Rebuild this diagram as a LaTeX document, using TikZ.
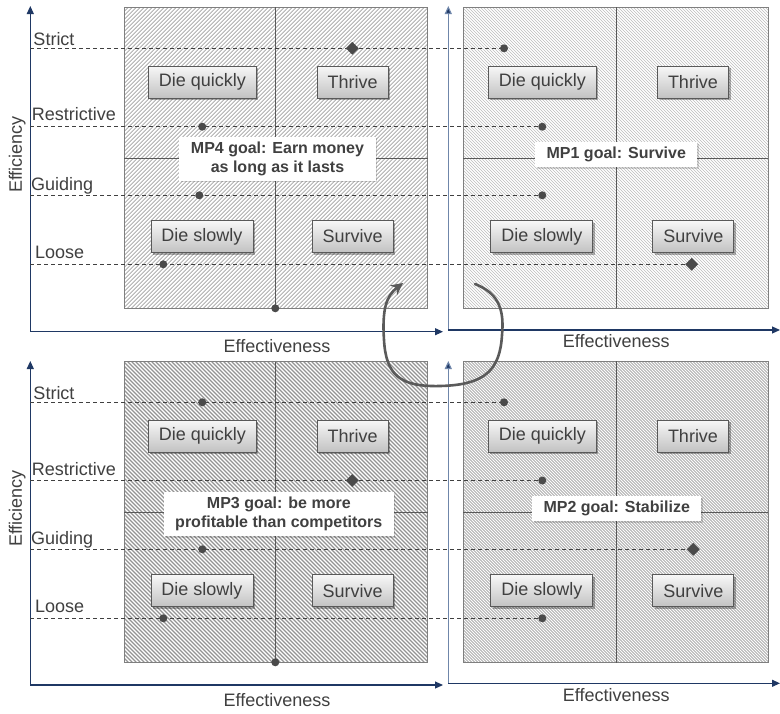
\documentclass[tikz,border=0pt]{standalone}
\usepackage{fontspec}
\setmainfont{Liberation Sans}
\usetikzlibrary{arrows.meta,shapes.geometric,shadows}

\definecolor{txt}{HTML}{404040}
\definecolor{navy}{HTML}{1F3864}
\definecolor{steel}{HTML}{6F86AA}
\definecolor{frameg}{HTML}{7F7F7F}
\definecolor{midg}{HTML}{595959}
\definecolor{markg}{HTML}{4A4A4A}
\definecolor{loopg}{HTML}{5A5A5A}

% diagonal hatching of a rectangle: x1, y1, x2, y2, gap, direction (1 rising, -1 falling), line style
\newcommand{\panelhatch}[7]{%
  \begin{scope}
    \clip (#1,#2) rectangle (#3,#4);
    \fill[white] (#1,#2) rectangle (#3,#4);
    \pgfmathsetmacro{\phgt}{#4-#2}
    \pgfmathsetmacro{\pustart}{#1-\phgt}
    \pgfmathsetmacro{\punext}{#1-\phgt+#5}
    \foreach \u in {\pustart,\punext,...,#3}{
      \ifnum#6>0
        \draw[#7] (\u,#4) -- ++(\phgt,-\phgt);
      \else
        \draw[#7] (\u,#2) -- ++(\phgt,\phgt);
      \fi
    }
  \end{scope}}

\tikzset{
  frameline/.style={draw=frameg, line width=0.9pt},
  midline/.style={draw=midg, line width=0.8pt},
  outcome/.style={draw=midg, line width=0.9pt, top color=black!3, bottom color=black!24,
    text=txt, font=\fontsize{18}{20}\selectfont, inner xsep=10.5pt, inner ysep=4pt,
    minimum height=32pt,
    drop shadow={shadow xshift=2pt, shadow yshift=-2pt, opacity=0.3, fill=black}},
  goal/.style={fill=white, text=txt, font=\fontsize{16}{19}\selectfont\bfseries,
    align=center, inner xsep=11.5pt, inner ysep=5pt,
    drop shadow={shadow xshift=1.5pt, shadow yshift=-1.5pt, opacity=0.15, fill=black}},
  level/.style={text=txt, font=\fontsize{18}{20}\selectfont, anchor=base west, inner sep=0pt},
  axislabel/.style={text=txt, font=\fontsize{18}{20}\selectfont, anchor=base, inner sep=0pt},
  axis/.style={draw=navy, line width=1.1pt, -{Triangle[length=8pt,width=7pt]}},
  axisl/.style={draw=steel, line width=1.1pt, -{Triangle[length=8pt,width=7pt,fill=navy]}},
  guide/.style={draw=txt, line width=0.7pt, dash pattern=on 4pt off 3pt},
  dotm/.style={circle, fill=markg, inner sep=0pt, minimum size=8pt},
  gem/.style={diamond, fill=markg, inner sep=0pt, minimum width=13pt, minimum height=13pt},
  loopline/.style={draw=loopg, line width=2.6pt, line cap=round,
    -{Stealth[length=12pt,width=12pt,inset=4pt]}},
}

\begin{document}
\begin{tikzpicture}[x=1pt,y=-1pt]
\useasboundingbox (0,0) rectangle (780,713);
\fill[white] (0,0) rectangle (780,713);

% ---------- hatched quadrant fields ----------
\panelhatch{124.3}{7.3}{427.7}{308.3}{4}{1}{draw=black!36, line width=0.75pt}
\panelhatch{463.3}{7.3}{768.3}{308.3}{3}{-1}{draw=black!26, line width=0.7pt}
\panelhatch{124.3}{361.7}{427.7}{662.3}{4}{-1}{draw=black!42, line width=1.2pt}
\panelhatch{463.3}{361.3}{768.3}{662.7}{3}{-1}{draw=black!32, line width=0.85pt}

% frames and quadrant dividers
\draw[frameline] (124.3,7.3) rectangle (427.7,308.3);
\draw[midline] (275.3,7.3) -- (275.3,308.3);
\draw[midline] (124.3,158.3) -- (427.7,158.3);

\draw[frameline] (463.3,7.3) rectangle (768.3,308.3);
\draw[midline] (616,7.3) -- (616,308.3);
\draw[midline] (463.3,158.3) -- (768.3,158.3);

\draw[frameline] (124.3,361.7) rectangle (427.7,662.3);
\draw[midline] (275.3,361.7) -- (275.3,662.3);
\draw[midline] (124.3,512.3) -- (427.7,512.3);

\draw[frameline] (463.3,361.3) rectangle (768.3,662.7);
\draw[midline] (616,361.3) -- (616,662.7);
\draw[midline] (463.3,512.3) -- (768.3,512.3);

% ---------- axes ----------
\coordinate (tl-o) at (30.3,331.7);
\coordinate (tl-y) at (30.3,6);
\coordinate (tl-x) at (443,331.7);
\coordinate (tr-o) at (448.3,330);
\coordinate (tr-y) at (448.3,6);
\coordinate (tr-x) at (780,330);
\coordinate (bl-o) at (30.3,685);
\coordinate (bl-y) at (30.3,361);
\coordinate (bl-x) at (443,685);
\coordinate (br-o) at (448.3,683.3);
\coordinate (br-y) at (448.3,361);
\coordinate (br-x) at (780,683.3);

\draw[axis] (tl-o) -- (tl-y);
\draw[axis] (tl-o) -- (tl-x);
\draw[axisl] (tr-o) -- (tr-y);
\draw[axis] (tr-o) -- (tr-x);
\draw[axis] (bl-o) -- (bl-y);
\draw[axis] (bl-o) -- (bl-x);
\draw[axisl] (br-o) -- (br-y);
\draw[axis] (br-o) -- (br-x);

% axis titles
\node[axislabel] (tl-eff) at (277,352.3) {Effectiveness};
\node[axislabel] (tr-eff) at (616.3,347.7) {Effectiveness};
\node[axislabel] (bl-eff) at (277,706.5) {Effectiveness};
\node[axislabel] (br-eff) at (616.3,701.7) {Effectiveness};
\node[axislabel, rotate=90] (tl-effi) at (21.8,154.5) {Efficiency};
\node[axislabel, rotate=90] (bl-effi) at (21.8,508.5) {Efficiency};

% level titles
\node[level] (t-strict) at (33.3,45) {Strict};
\node[level] (t-restr) at (31.7,120.7) {Restrictive};
\node[level] (t-guid) at (31,190.5) {Guiding};
\node[level] (t-loose) at (35,258.3) {Loose};
\node[level] (b-strict) at (33.3,399.3) {Strict};
\node[level] (b-restr) at (31.7,475) {Restrictive};
\node[level] (b-guid) at (31,544.3) {Guiding};
\node[level] (b-loose) at (35,612.7) {Loose};

% ---------- marker positions ----------
\coordinate (tl-p1) at (352.3,48.3);
\coordinate (tl-p2) at (202.3,126.7);
\coordinate (tl-p3) at (199.3,195.3);
\coordinate (tl-p4) at (163.3,264.3);
\coordinate (tl-p5) at (275.3,308.3);
\coordinate (tr-p1) at (504,48.3);
\coordinate (tr-p2) at (542.3,126.7);
\coordinate (tr-p3) at (542.3,195.3);
\coordinate (tr-p4) at (691.7,264.3);
\coordinate (bl-p1) at (202.3,402.3);
\coordinate (bl-p2) at (352.3,480.5);
\coordinate (bl-p3) at (202.3,549.3);
\coordinate (bl-p4) at (163.3,618.3);
\coordinate (bl-p5) at (275.3,662.3);
\coordinate (br-p1) at (504,402.3);
\coordinate (br-p2) at (542.3,480.5);
\coordinate (br-p3) at (693.3,549.3);
\coordinate (br-p4) at (542.3,618.3);

% dashed level guides, from the efficiency axis to the right-hand marker
\coordinate (g-t1) at (30.3,48.3);
\coordinate (g-t2) at (30.3,126.7);
\coordinate (g-t3) at (30.3,195.3);
\coordinate (g-t4) at (30.3,264.3);
\coordinate (g-b1) at (30.3,402.3);
\coordinate (g-b2) at (30.3,480.5);
\coordinate (g-b3) at (30.3,549.3);
\coordinate (g-b4) at (30.3,618.3);
\draw[guide] (g-t1) -- (tr-p1);
\draw[guide] (g-t2) -- (tr-p2);
\draw[guide] (g-t3) -- (tr-p3);
\draw[guide] (g-t4) -- (tr-p4);
\draw[guide] (g-b1) -- (br-p1);
\draw[guide] (g-b2) -- (br-p2);
\draw[guide] (g-b3) -- (br-p3);
\draw[guide] (g-b4) -- (br-p4);

% markers
\node[gem]  (tl-m1) at (tl-p1) {};
\node[dotm] (tl-m2) at (tl-p2) {};
\node[dotm] (tl-m3) at (tl-p3) {};
\node[dotm] (tl-m4) at (tl-p4) {};
\node[dotm] (tl-m5) at (tl-p5) {};
\node[dotm] (tr-m1) at (tr-p1) {};
\node[dotm] (tr-m2) at (tr-p2) {};
\node[dotm] (tr-m3) at (tr-p3) {};
\node[gem]  (tr-m4) at (tr-p4) {};
\node[dotm] (bl-m1) at (bl-p1) {};
\node[gem]  (bl-m2) at (bl-p2) {};
\node[dotm] (bl-m3) at (bl-p3) {};
\node[dotm] (bl-m4) at (bl-p4) {};
\node[dotm] (bl-m5) at (bl-p5) {};
\node[dotm] (br-m1) at (br-p1) {};
\node[dotm] (br-m2) at (br-p2) {};
\node[gem]  (br-m3) at (br-p3) {};
\node[dotm] (br-m4) at (br-p4) {};

% ---------- outcome boxes ----------
\node[outcome] (tl-dq) at (202.3,82) {Die quickly};
\node[outcome] (tl-th) at (352.7,82) {Thrive};
\node[outcome] (tl-ds) at (202,236.5) {Die slowly};
\node[outcome] (tl-sv) at (352.7,236.5) {Survive};

\node[outcome] (tr-dq) at (542.3,82) {Die quickly};
\node[outcome] (tr-th) at (693,82) {Thrive};
\node[outcome] (tr-ds) at (541.8,236.5) {Die slowly};
\node[outcome] (tr-sv) at (693.3,236.5) {Survive};

\node[outcome] (bl-dq) at (202.3,436) {Die quickly};
\node[outcome] (bl-th) at (352.7,436) {Thrive};
\node[outcome] (bl-ds) at (202,590.8) {Die slowly};
\node[outcome] (bl-sv) at (352.7,590.8) {Survive};

\node[outcome] (br-dq) at (542.3,436) {Die quickly};
\node[outcome] (br-th) at (693,436) {Thrive};
\node[outcome] (br-ds) at (541.8,590.8) {Die slowly};
\node[outcome] (br-sv) at (693.3,590.8) {Survive};

% ---------- goal captions ----------
\node[goal] (mp4) at (277.5,158.8) {MP4 goal: Earn money\\as long as it lasts};
\node[goal] (mp1) at (616.3,154.8) {MP1 goal: Survive};
\node[goal] (mp3) at (278.8,514.2) {MP3 goal: be more\\profitable than competitors};
\node[goal] (mp2) at (616.7,508.8) {MP2 goal: Stabilize};

% ---------- cycle arrow between the panels ----------
\coordinate (loop-a) at (475,284);
\coordinate (loop-b) at (403,283);
\draw[loopline] (loop-a) .. controls (495,292) and (505,305) .. (502,335)
  .. controls (500,370) and (485,385) .. (440,386)
  .. controls (400,387) and (386,375) .. (384,340)
  .. controls (382,310) and (386,296) .. (loop-b);

\end{tikzpicture}
\end{document}
